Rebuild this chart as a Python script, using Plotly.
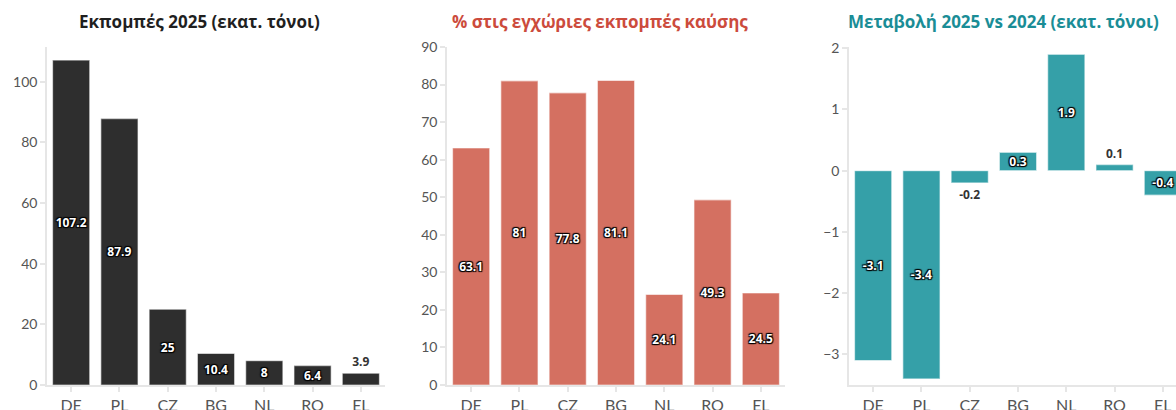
import plotly.graph_objects as go

countries = ["DE", "PL", "CZ", "BG", "NL", "RO", "EL"]
emissions_2025 = [107.2, 87.9, 25, 10.4, 8, 6.4, 3.9]
share_combustion = [63.1, 81, 77.8, 81.1, 24.1, 49.3, 24.5]
change_vs_2024 = [-3.1, -3.4, -0.2, 0.3, 1.9, 0.1, -0.4]

titles = ["Εκπομπές 2025 (εκατ. τόνοι)",
          "% στις εγχώριες εκπομπές καύσης",
          "Μεταβολή 2025 vs 2024 (εκατ. τόνοι)"]
title_colors = ["#1f1f1f", "#cc4b3c", "#1a8d96"]
bar_colors = ["#2e2e2e", "#d47061", "#35a0a8"]

W, H = 1176, 410
T, B = 47, 25
doms = [(47 / W, 385 / W), (447 / W, 785 / W), (849 / W, 1.0)]

fig = go.Figure()

inside_font = dict(family="Open Sans", size=12, color="white", weight="bold",
                   shadow="1px 1px 1px #000, -1px -1px 1px #000, 1px -1px 1px #000, -1px 1px 1px #000")
outside_font = dict(family="Open Sans", size=12, color="#333333", weight="bold",
                    shadow="1px 1px 1px #fff, -1px -1px 1px #fff")

def labels(vals):
    return [("%g" % v) for v in vals]

series = [emissions_2025, share_combustion, change_vs_2024]
positions = [
    ["inside"] * 6 + ["outside"],
    ["inside"] * 7,
    ["inside", "inside", "outside", "inside", "inside", "outside", "inside"],
]

for i, (vals, pos) in enumerate(zip(series, positions)):
    ax = "" if i == 0 else str(i + 1)
    fig.add_trace(go.Bar(
        x=countries, y=vals, xaxis="x" + ax, yaxis="y" + ax,
        marker=dict(color=bar_colors[i], line=dict(color="rgba(255,255,255,0.55)", width=1.2)),
        text=labels(vals), textposition=pos, insidetextanchor="middle",
        insidetextfont=inside_font, outsidetextfont=outside_font,
        constraintext="none",
        textangle=0, cliponaxis=True, hoverinfo="x+y", showlegend=False,
    ))

axis_common = dict(showline=True, linecolor="#e6e6e6", linewidth=1.5,
                   ticks="outside", tickcolor="#e6e6e6", ticklen=5, tickwidth=1.5,
                   showgrid=False, zeroline=False, automargin=False)

yranges = [[0, 111.5], [0, 90], [-3.5, 2.02]]
ydtick = [20, 10, 1]
xranges = [[-0.5, 6.5], [-0.5, 6.5], [-0.5, 6.5 - 11 / 48.3]]

layout = dict(
    width=W, height=H, margin=dict(l=0, r=0, t=T, b=B),
    paper_bgcolor="white", plot_bgcolor="white", bargap=0.23,
    font=dict(family="Lato", color="#555555"),
)
for i in range(3):
    ax = "" if i == 0 else str(i + 1)
    layout["xaxis" + ax] = dict(axis_common, domain=list(doms[i]), range=xranges[i],
                                anchor="y" + ax, tickfont=dict(size=16, color="#555555", family="Lato"))
    layout["yaxis" + ax] = dict(axis_common, range=yranges[i], dtick=ydtick[i],
                                anchor="x" + ax, tickfont=dict(size=14, color="#555555", family="Lato"))
fig.update_layout(**layout)

title_x = [199, 600, 1003]
title_y = (H - B - 22) / (H - T - B)
for i in range(3):
    fig.add_annotation(
        text="<b>%s</b>" % titles[i], x=title_x[i] / W, y=title_y,
        xref="paper", yref="paper", xanchor="center", yanchor="middle",
        showarrow=False, font=dict(family="Open Sans", size=17, color=title_colors[i]),
    )

fig.write_html("out.html", config={"displayModeBar": False},
               post_script="document.body.style.margin='0';document.body.style.overflow='hidden';")
